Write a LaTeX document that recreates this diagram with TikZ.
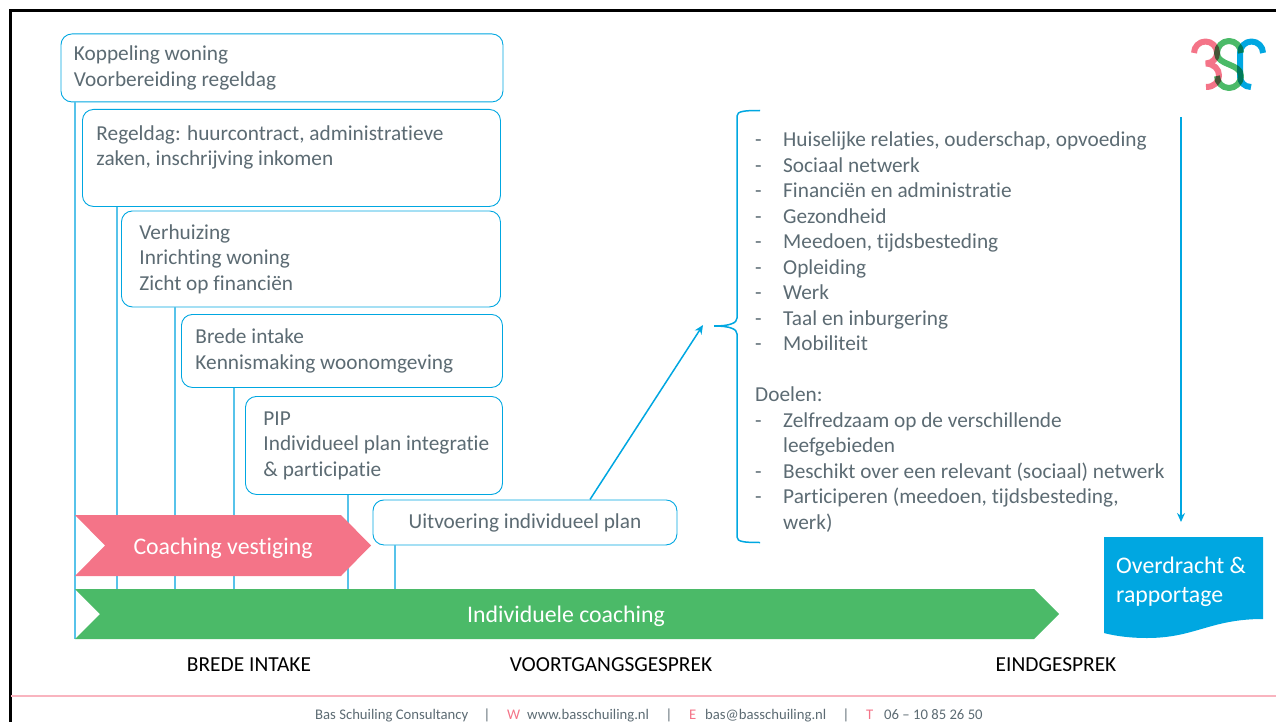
\documentclass[tikz,border=0pt]{standalone}
\usepackage{fontspec}
\setmainfont{Carlito}[Ligatures=NoCommon]
\usetikzlibrary{arrows.meta,calc}
\definecolor{bsblue}{HTML}{00A7E1}
\definecolor{bsline}{HTML}{57C3EA}
\definecolor{bspink}{HTML}{F47488}
\definecolor{bsgreen}{HTML}{4BBA68}
\definecolor{bsgrey}{HTML}{5C6B73}
\definecolor{bsrule}{HTML}{F9B4BF}
\tikzset{
  body/.style={font=\fontsize{21.3}{25.5}\selectfont,text=bsgrey},
  box/.style={draw=bsblue,line width=0.9pt,rounded corners=11pt,fill=white,body,align=flush left,inner sep=0pt,anchor=north west},
  stem/.style={draw=bsline,line width=1.2pt},
  link/.style={draw=bsblue,line width=1.5pt},
  arrowlink/.style={link,-{Stealth[length=9pt,width=8pt]}},
  banner/.style={text=white,font=\fontsize{23.8}{29}\selectfont},
  caption/.style={text=black,font=\fontsize{21.4}{25}\selectfont},
  foot/.style={font=\fontsize{14.7}{17}\selectfont,text=bsgrey,anchor=base west,inner sep=0pt},
  pinkfoot/.style={foot,text=bspink},
  sepfoot/.style={foot,anchor=base},
  logo/.style={line width=6pt,line join=bevel,blend mode=multiply}
}
\begin{document}
\begin{tikzpicture}[x=1pt,y=-1pt]
\useasboundingbox (0,0) rectangle (1276,722);
% frame
\draw[line width=3pt,black] (10.5,722) -- (10.5,11) -- (1276,11);
\draw[line width=1.3pt,bsrule] (11,696) -- (1276,696);
% free ends of stems
\coordinate (b1) at (75,639);
\coordinate (b2) at (117,639);
\coordinate (b3) at (175,639);
\coordinate (b4) at (234,639);
\coordinate (b5) at (348,589);
\coordinate (b6) at (395,589);
% boxes
\node[box,minimum width=442pt,minimum height=68pt,text width=416pt,inner xsep=13pt] (k1) at (60.5,33.5) {Koppeling woning\\Voorbereiding regeldag};
\node[box,minimum width=418pt,minimum height=97pt,text width=390pt,inner xsep=14pt] (k2) at (82,109) {Regeldag: huurcontract, administratieve\\zaken, inschrijving inkomen\\[-4pt]\vphantom{Ag}};
\node[box,minimum width=379pt,minimum height=96pt,text width=343pt,inner xsep=18pt] (k3) at (121,210.5) {Verhuizing\\Inrichting woning\\Zicht op financiën};
\node[box,minimum width=321pt,minimum height=73pt,text width=293pt,inner xsep=14pt] (k4) at (181,314) {Brede intake\\Kennismaking woonomgeving};
\node[box,minimum width=257pt,minimum height=98pt,text width=235pt,inner xsep=11pt] (k5) at (245,396) {\hspace*{7pt}PIP\\\hspace*{7pt}Individueel plan integratie\\\hspace*{7pt}\& participatie};
\node[box,minimum width=304pt,minimum height=45pt,align=center] (k6) at (372.5,499.5) {Uitvoering individueel plan};
\draw[stem] (k1.south -| b1) -- (b1);
\draw[stem] (k2.south -| b2) -- (b2);
\draw[stem] (k3.south -| b3) -- (b3);
\draw[stem] (k4.south -| b4) -- (b4);
\draw[stem] (k5.south -| b5) -- (b5);
\draw[stem] (k6.south -| b6) -- (b6);
% banners
\fill[bspink] (75,515) -- (341,515) -- (371,545.5) -- (341,576) -- (75,576) -- (105,545.5) -- cycle;
\node[banner] (coach) at (223,548) {Coaching vestiging};
\fill[bsgreen] (75,589) -- (1034,589) -- (1059,614) -- (1034,639) -- (75,639) -- (100,614) -- cycle;
\node[banner] (indiv) at (566,616) {Individuele coaching};
% arrow to brace
\coordinate (astart) at (590,499.5);
\coordinate (aend) at (703,325);
\draw[arrowlink] (k6.north -| astart) -- (aend);
% brace
\coordinate (btip) at (714,326);
\coordinate (btop) at (760,110.5);
\coordinate (bbot) at (760,542.5);
\draw[link] (btop) .. controls (745,110.5) and (737,111) .. (737,116) -- (737,318)
  .. controls (737,323) and (730,326) .. (btip)
  .. controls (730,326) and (737,329) .. (737,334) -- (737,537)
  .. controls (737,542) and (745,542.5) .. (bbot);
% list
\node[body,align=left,anchor=north west,inner sep=0pt] (list) at (755,132) {%
\makebox[28pt][l]{-}Huiselijke relaties, ouderschap, opvoeding\\
\makebox[28pt][l]{-}Sociaal netwerk\\
\makebox[28pt][l]{-}Financiën en administratie\\
\makebox[28pt][l]{-}Gezondheid\\
\makebox[28pt][l]{-}Meedoen, tijdsbesteding\\
\makebox[28pt][l]{-}Opleiding\\
\makebox[28pt][l]{-}Werk\\
\makebox[28pt][l]{-}Taal en inburgering\\
\makebox[28pt][l]{-}Mobiliteit\\
\strut\\
Doelen:\\
\makebox[28pt][l]{-}Zelfredzaam op de verschillende\\
\makebox[28pt][l]{}leefgebieden\\
\makebox[28pt][l]{-}Beschikt over een relevant (sociaal) netwerk\\
\makebox[28pt][l]{-}Participeren (meedoen, tijdsbesteding,\\
\makebox[28pt][l]{}werk)};
% down arrow
\coordinate (dstart) at (1181,117);
\coordinate (dend) at (1181,522);
\draw[arrowlink] (dstart) -- (dend);
% document
\fill[bsblue] (1104,537) -- (1263,537) -- (1263,619)
  .. controls (1210,619) and (1195,638) .. (1147,638)
  .. controls (1130,638) and (1115,636) .. (1104,633) -- cycle;
\node[banner,align=left,anchor=north west,inner sep=0pt] (over) at (1116,557) {Overdracht \&\\rapportage};
% captions
\node[caption] (c1) at (249,665) {BREDE INTAKE};
\node[caption] (c2) at (611,665) {VOORTGANGSGESPREK};
\node[caption] (c3) at (1056,665) {EINDGESPREK};
% footer
\node[foot] (f1) at (315,719) {Bas Schuiling Consultancy};
\node[sepfoot] (s1) at (487,719) {|};
\node[pinkfoot] (f2) at (507,719) {W};
\node[foot] (f3) at (527,719) {www.basschuiling.nl};
\node[sepfoot] (s2) at (669,719) {|};
\node[pinkfoot] (f4) at (689,719) {E};
\node[foot] (f5) at (705,719) {bas@basschuiling.nl};
\node[sepfoot] (s3) at (846,719) {|};
\node[pinkfoot] (f6) at (866,719) {T};
\node[foot] (f7) at (884,719) {06 – 10 85 26 50};
% logo
\begin{scope}[logo]
\draw[bspink] (1194,53) arc[start angle=180,end angle=360,radius=11.5]
  .. controls (1217,58) and (1213,63) .. (1206,63.5)
  .. controls (1214,64) and (1219,69) .. (1219,75.5)
  .. controls (1219,82) and (1214,87) .. (1206,87);
\draw[bsgreen] (1241,53) arc[start angle=360,end angle=180,radius=12]
  .. controls (1217,66) and (1241,63) .. (1241,76)
  arc[start angle=0,end angle=180,radius=12];
\draw[bsblue] (1263,53) arc[start angle=360,end angle=180,radius=11.5]
  -- (1240,76) .. controls (1240,82) and (1244,87) .. (1251,87);
\end{scope}
\end{tikzpicture}
\end{document}
